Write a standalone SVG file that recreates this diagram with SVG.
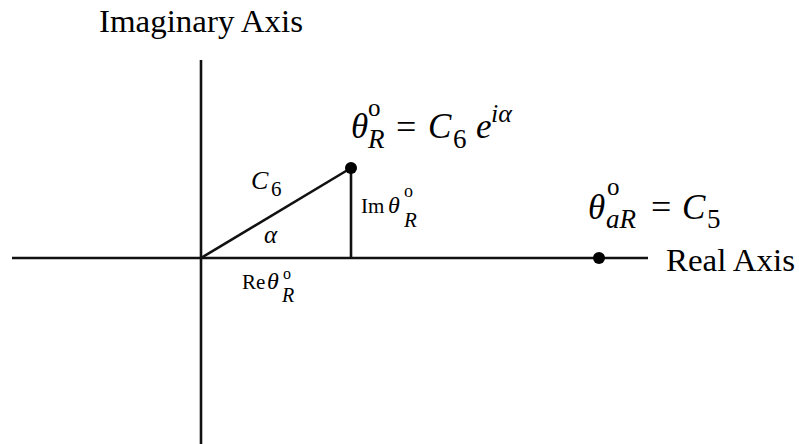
<svg xmlns="http://www.w3.org/2000/svg" width="799" height="444" viewBox="0 0 799 444">
<style>
.ln{stroke:#111;stroke-width:2.6;fill:none;stroke-linecap:butt}
.dot{fill:#000}
text{font-family:"Liberation Serif","Times New Roman",serif;fill:#000}
.it{font-style:italic}
</style>
<rect width="799" height="444" fill="#fff"/>
<g id="connectors">
<line class="ln" x1="201" y1="60" x2="201" y2="444"/>
<line class="ln" x1="12" y1="258" x2="648" y2="258"/>
<line class="ln" x1="201" y1="258" x2="351" y2="168"/>
<line class="ln" x1="351" y1="168" x2="351" y2="258"/>
</g>
<g id="imag-axis-label">
<text x="99" y="32" font-size="32" textLength="204" lengthAdjust="spacingAndGlyphs">Imaginary Axis</text>
</g>
<g id="real-axis-label">
<text x="666" y="271" font-size="32" textLength="129" lengthAdjust="spacingAndGlyphs">Real Axis</text>
</g>
<g id="point-R">
<circle class="dot" cx="351" cy="168" r="6"/>
<text class="it" x="351" y="138" font-size="35">θ</text>
<text x="368" y="116" font-size="25">o</text>
<text class="it" x="368" y="148" font-size="27">R</text>
<text x="396" y="139" font-size="36">=</text>
<text class="it" x="428" y="138" font-size="35">C</text>
<text x="453" y="148" font-size="27">6</text>
<text class="it" x="476" y="138" font-size="35">e</text>
<text class="it" x="491" y="122" font-size="26">iα</text>
</g>
<g id="point-aR">
<circle class="dot" cx="599" cy="258" r="6"/>
<text class="it" x="588" y="219" font-size="35">θ</text>
<text x="607" y="195" font-size="25">o</text>
<text class="it" x="606" y="228" font-size="27">aR</text>
<text x="651" y="219" font-size="36">=</text>
<text class="it" x="682" y="219" font-size="35">C</text>
<text x="707" y="228" font-size="27">5</text>
</g>
<g id="label-C6">
<text class="it" x="251" y="189" font-size="26">C</text>
<text x="271" y="196" font-size="21">6</text>
</g>
<g id="label-alpha">
<text class="it" x="264" y="243" font-size="25">α</text>
</g>
<g id="label-Im">
<text x="361" y="213" font-size="21">Im</text>
<text class="it" x="388" y="213" font-size="24">θ</text>
<text x="404" y="197" font-size="18">o</text>
<text class="it" x="404" y="227" font-size="21">R</text>
</g>
<g id="label-Re">
<text x="242" y="289" font-size="21">Re</text>
<text class="it" x="267" y="289" font-size="24">θ</text>
<text x="283" y="279" font-size="16">o</text>
<text class="it" x="282" y="302" font-size="20">R</text>
</g>
</svg>
